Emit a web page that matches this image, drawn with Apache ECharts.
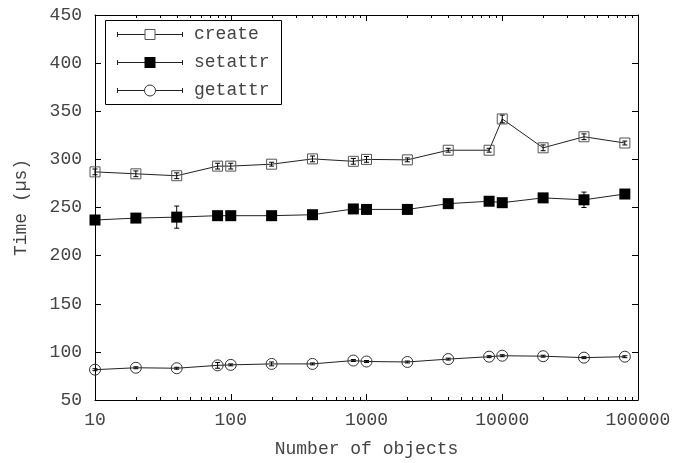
<!DOCTYPE html>
<html>
<head>
<meta charset="utf-8">
<title>Time vs number of objects</title>
<script src="https://cdn.jsdelivr.net/npm/echarts@6/dist/echarts.min.js"></script>
<style>
  html, body { margin: 0; padding: 0; background: #fff; }
  #chart { width: 686px; height: 463px; }
</style>
</head>
<body>
<div id="chart"></div>
<script>
// number of objects (x, log scale)
var objects = [10, 20, 40, 80, 100, 200, 400, 800, 1000, 2000, 4000, 8000, 10000, 20000, 40000, 80000];

// times in microseconds
var createTime  = [287, 285, 283, 293, 293, 295, 300.5, 298, 300, 299.5, 309.5, 309.5, 342, 312, 323.5, 317];
var createErr   = [3, 3, 3, 3, 3, 2, 3, 3, 3, 2, 2, 2, 4, 3, 3, 2];
var setattrTime = [237, 239, 240, 241.5, 241.5, 241.5, 242.5, 248.5, 248, 248, 254, 256.5, 255, 260, 258, 264];
var setattrErr  = [1, 1, 11.5, 1, 1, 1, 1, 1, 1, 1, 1, 1, 1, 1, 8, 1];
var getattrTime = [81.5, 83.5, 83, 86, 86.5, 87.5, 87.5, 91, 90, 89.5, 92.5, 95, 96, 95.5, 94, 95];
var getattrErr  = [1, 1, 1, 3, 1, 2, 1, 1, 1, 1, 1, 1, 1, 1, 1, 1];

var seriesNames = ['create', 'setattr', 'getattr'];
var markers = ['square', 'filled', 'circle'];

// log axis minor ticks (2..9 in every decade)
var decades = [10, 100, 1000, 10000];
var minorSteps = [2, 3, 4, 5, 6, 7, 8, 9];

var FONT = 'Liberation Mono';
var INK = '#222';
var TXT = '#444';

function rows(xs, ys, es) {
  var out = [];
  for (var i = 0; i < xs.length; i++) out.push([xs[i], ys[i], es[i]]);
  return out;
}

function markerShape(kind, cx, cy) {
  if (kind === 'square') {
    return { type: 'rect', shape: { x: cx - 5, y: cy - 5, width: 10, height: 10 },
             style: { fill: null, stroke: '#555', lineWidth: 1 } };
  }
  if (kind === 'filled') {
    return { type: 'rect', shape: { x: cx - 5.5, y: cy - 5.5, width: 11, height: 11 },
             style: { fill: '#000', stroke: null } };
  }
  return { type: 'circle', shape: { cx: cx, cy: cy, r: 5.5 },
           style: { fill: null, stroke: '#333', lineWidth: 1 } };
}

function errorRenderer(kind) {
  return function (params, api) {
    var x = api.value(0), y = api.value(1), e = api.value(2);
    var c = api.coord([x, y]);
    var hi = api.coord([x, y + e]);
    var lo = api.coord([x, y - e]);
    var st = { stroke: '#000', lineWidth: 1 };
    return {
      type: 'group',
      children: [
        markerShape(kind, c[0], c[1]),
        { type: 'line', shape: { x1: c[0], y1: hi[1], x2: c[0], y2: lo[1] }, style: st },
        { type: 'line', shape: { x1: c[0] - 2.5, y1: hi[1], x2: c[0] + 2.5, y2: hi[1] }, style: st },
        { type: 'line', shape: { x1: c[0] - 2.5, y1: lo[1], x2: c[0] + 2.5, y2: lo[1] }, style: st }
      ]
    };
  };
}

var minorTicks = [];
decades.forEach(function (d) {
  minorSteps.forEach(function (m) { minorTicks.push([d * m]); });
});

// legend drawn by hand (gnuplot style: |----o----| label)
function legendItems() {
  var items = [{ type: 'rect', shape: { x: 105.5, y: 20.5, width: 176, height: 84 },
                 style: { fill: '#fff', stroke: '#000', lineWidth: 1 } }];
  var ys = [34, 62, 90];
  for (var i = 0; i < 3; i++) {
    var y = ys[i] + 0.5;
    items.push({ type: 'line', shape: { x1: 117, y1: y, x2: 183, y2: y }, style: { stroke: INK, lineWidth: 1 } });
    items.push({ type: 'line', shape: { x1: 117.5, y1: y - 2.5, x2: 117.5, y2: y + 2.5 }, style: { stroke: INK, lineWidth: 1 } });
    items.push({ type: 'line', shape: { x1: 182.5, y1: y - 2.5, x2: 182.5, y2: y + 2.5 }, style: { stroke: INK, lineWidth: 1 } });
    var mk = markerShape(markers[i], 150, y);
    if (mk.style.fill === null) mk.style.fill = '#fff';
    items.push(mk);
    items.push({ type: 'text', x: 194, y: ys[i], style: { text: seriesNames[i], font: '18px "' + FONT + '"',
                 fill: TXT, verticalAlign: 'middle' } });
  }
  return items;
}

var chart = echarts.init(document.getElementById('chart'), null, { renderer: 'canvas' });

var axisLineStyle = { color: '#000', width: 1 };

var option = {
  animation: false,
  backgroundColor: '#fff',
  grid: { left: 95, right: 48, top: 15, bottom: 59 },
  xAxis: [{
    type: 'log', logBase: 10, min: 10, max: 100000,
    name: 'Number of objects', nameLocation: 'middle', nameGap: 40,
    nameTextStyle: { fontFamily: FONT, fontSize: 18, color: TXT },
    axisLine: { lineStyle: axisLineStyle },
    axisTick: { inside: true, length: 6, lineStyle: { color: '#000' } },
    axisLabel: { fontFamily: FONT, fontSize: 18, color: TXT, margin: 11,
                 formatter: function (v) { return String(Math.round(v)); } },
    splitLine: { show: false }
  }, {
    type: 'log', logBase: 10, min: 10, max: 100000, position: 'top',
    axisLine: { lineStyle: axisLineStyle },
    axisTick: { inside: true, length: 6, lineStyle: { color: '#000' } },
    axisLabel: { show: false },
    splitLine: { show: false }
  }],
  yAxis: [{
    type: 'value', min: 50, max: 450, interval: 50,
    name: 'Time (µs)', nameLocation: 'middle', nameGap: 65,
    nameTextStyle: { fontFamily: FONT, fontSize: 18, color: TXT },
    axisLine: { show: true, lineStyle: axisLineStyle },
    axisTick: { show: true, inside: true, length: 6, lineStyle: { color: '#000' } },
    axisLabel: { fontFamily: FONT, fontSize: 18, color: TXT, margin: 13 },
    splitLine: { show: false }
  }, {
    type: 'value', min: 50, max: 450, interval: 50, position: 'right',
    axisLine: { show: true, lineStyle: axisLineStyle },
    axisTick: { show: true, inside: true, length: 6, lineStyle: { color: '#000' } },
    axisLabel: { show: false },
    splitLine: { show: false }
  }],
  graphic: legendItems(),
  series: [
    { name: 'create', type: 'line', data: rows(objects, createTime, createErr), showSymbol: false,
      lineStyle: { color: INK, width: 1 }, z: 2 },
    { name: 'setattr', type: 'line', data: rows(objects, setattrTime, setattrErr), showSymbol: false,
      lineStyle: { color: INK, width: 1 }, z: 2 },
    { name: 'getattr', type: 'line', data: rows(objects, getattrTime, getattrErr), showSymbol: false,
      lineStyle: { color: INK, width: 1 }, z: 2 },
    { type: 'custom', data: rows(objects, createTime, createErr), renderItem: errorRenderer('square'), z: 3 },
    { type: 'custom', data: rows(objects, setattrTime, setattrErr), renderItem: errorRenderer('filled'), z: 3 },
    { type: 'custom', data: rows(objects, getattrTime, getattrErr), renderItem: errorRenderer('circle'), z: 3 },
    { type: 'custom', data: minorTicks, z: 4, silent: true,
      renderItem: function (params, api) {
        var b = api.coord([api.value(0), 50]);
        var t = api.coord([api.value(0), 450]);
        var x = Math.round(b[0]) + 0.5;
        return { type: 'group', children: [
          { type: 'line', shape: { x1: x, y1: b[1], x2: x, y2: b[1] - 3 }, style: { stroke: '#000', lineWidth: 1 } },
          { type: 'line', shape: { x1: x, y1: t[1], x2: x, y2: t[1] + 3 }, style: { stroke: '#000', lineWidth: 1 } }
        ] };
      } }
  ]
};

chart.setOption(option);
</script>
</body>
</html>
